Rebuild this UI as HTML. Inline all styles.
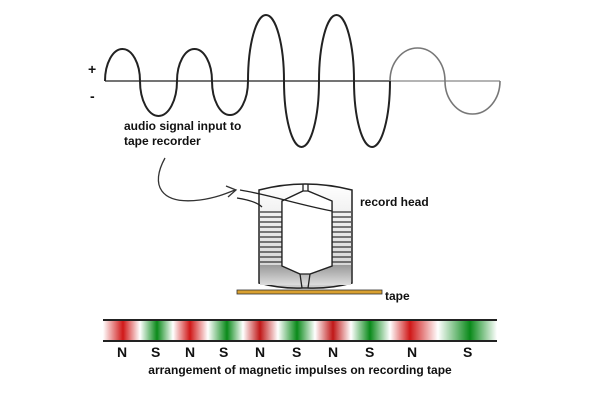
<!DOCTYPE html>
<html><head><style>
body{margin:0;background:#fff;width:600px;height:400px;overflow:hidden;position:relative;font-family:"Liberation Sans",sans-serif;}
.t{position:absolute;font-weight:bold;font-size:12px;color:#111;white-space:nowrap}
.strip{position:absolute;left:103px;top:319px;width:394px;height:19px;border-top:2px solid #222;border-bottom:2px solid #222;
background:linear-gradient(90deg,#fff 0px,#d01818 20px,#fff 37px,#0a8a1a 54px,#fff 70px,#d01818 87px,#fff 105px,#0a8a1a 124px,#fff 140px,#c01818 157px,#fff 175px,#0a8a1a 194px,#fff 212px,#c01818 230px,#fff 248px,#0a8a1a 267px,#fff 287px,#d01818 307px,#fff 335px,#0a8a1a 367px,#fff 394px);}
.L{position:absolute;top:344px;font-weight:bold;font-size:14px;color:#111}
</style></head><body>
<svg width="600" height="400" style="position:absolute;left:0;top:0">
<line x1="105" y1="81" x2="390" y2="81" stroke="#222" stroke-width="1.3"/>
<line x1="390" y1="81" x2="500" y2="81" stroke="#888" stroke-width="1.3"/>
<path d="M105 81 A17.5 32 0 0 1 140 81 A18 34 0 0 0 177 81 A17.5 32 0 0 1 212 81 A18 34 0 0 0 248 81 A18 66 0 0 1 284 81 A17.5 66 0 0 0 319 81 A17.5 66 0 0 1 354 81 A18 66 0 0 0 390 81" fill="none" stroke="#222" stroke-width="2"/>
<path d="M390 81 A27.5 33 0 0 1 445 81 A27.5 33 0 0 0 500 81" fill="none" stroke="#777" stroke-width="1.6"/>
<path d="M165 158 C150 185,160 205,200 200 C215 198,225 194,235 190" fill="none" stroke="#333" stroke-width="1.3"/>
<path d="M226 186 L236 190 L228 197" fill="none" stroke="#333" stroke-width="1.3"/>
<defs>
<linearGradient id="g1" x1="0" y1="0" x2="0" y2="1"><stop offset="0" stop-color="#fff"/><stop offset="1" stop-color="#ccc"/></linearGradient>
<linearGradient id="g2" x1="0" y1="0" x2="0" y2="1"><stop offset="0" stop-color="#999"/><stop offset="1" stop-color="#ddd"/></linearGradient>
</defs>
<path d="M259 190 Q305 178 352 190 L352 283 Q330 289 307 288 L303 288 Q281 289 259 283 Z" fill="url(#g1)" stroke="#222" stroke-width="1.5"/>
<rect x="260" y="265" width="91" height="20" fill="url(#g2)"/>
<g stroke="#333" stroke-width="1.2">
<line x1="260" y1="212" x2="282" y2="212"/><line x1="260" y1="217" x2="282" y2="217"/><line x1="260" y1="222" x2="282" y2="222"/><line x1="260" y1="227" x2="282" y2="227"/><line x1="260" y1="232" x2="282" y2="232"/><line x1="260" y1="237" x2="282" y2="237"/><line x1="260" y1="242" x2="282" y2="242"/><line x1="260" y1="247" x2="282" y2="247"/><line x1="260" y1="252" x2="282" y2="252"/><line x1="260" y1="257" x2="282" y2="257"/><line x1="260" y1="262" x2="282" y2="262"/>
<line x1="332" y1="212" x2="351" y2="212"/><line x1="332" y1="217" x2="351" y2="217"/><line x1="332" y1="222" x2="351" y2="222"/><line x1="332" y1="227" x2="351" y2="227"/><line x1="332" y1="232" x2="351" y2="232"/><line x1="332" y1="237" x2="351" y2="237"/><line x1="332" y1="242" x2="351" y2="242"/><line x1="332" y1="247" x2="351" y2="247"/><line x1="332" y1="252" x2="351" y2="252"/><line x1="332" y1="257" x2="351" y2="257"/><line x1="332" y1="262" x2="351" y2="262"/>
</g>
<path d="M303 184 L303 191 L282 201 L282 266 L300 274 L302 288 M308 184 L308 191 L332 201 L332 266 L310 274 L308 288" fill="none" stroke="#222" stroke-width="1.3"/>
<path d="M282 201 L303 191 L308 191 L332 201 L332 266 L310 274 L300 274 L282 266 Z" fill="#fff" stroke="#222" stroke-width="1.3"/>
<path d="M240 190 C270 195,300 205,332 211" fill="none" stroke="#222" stroke-width="1.3"/>
<path d="M237 198 C250 200,258 203,262 207" fill="none" stroke="#222" stroke-width="1.3"/>
<rect x="237" y="290" width="145" height="4" fill="#d9a030" stroke="#333" stroke-width="0.8"/>
</svg>
<div class="t" style="left:88px;top:61px;font-size:14px">+</div>
<div class="t" style="left:90px;top:88px;font-size:14px">-</div>
<div class="t" style="left:124px;top:119px">audio signal input to</div>
<div class="t" style="left:124px;top:134px">tape recorder</div>
<div class="t" style="left:360px;top:195px">record head</div>
<div class="t" style="left:385px;top:289px">tape</div>
<div class="strip"></div>
<div class="L" style="left:117px">N</div><div class="L" style="left:151px">S</div><div class="L" style="left:185px">N</div><div class="L" style="left:219px">S</div><div class="L" style="left:255px">N</div><div class="L" style="left:292px">S</div><div class="L" style="left:328px">N</div><div class="L" style="left:365px">S</div><div class="L" style="left:407px">N</div><div class="L" style="left:463px">S</div>
<div class="t" style="left:0;width:600px;text-align:center;top:363px">arrangement of magnetic impulses on recording tape</div>
</body></html>
